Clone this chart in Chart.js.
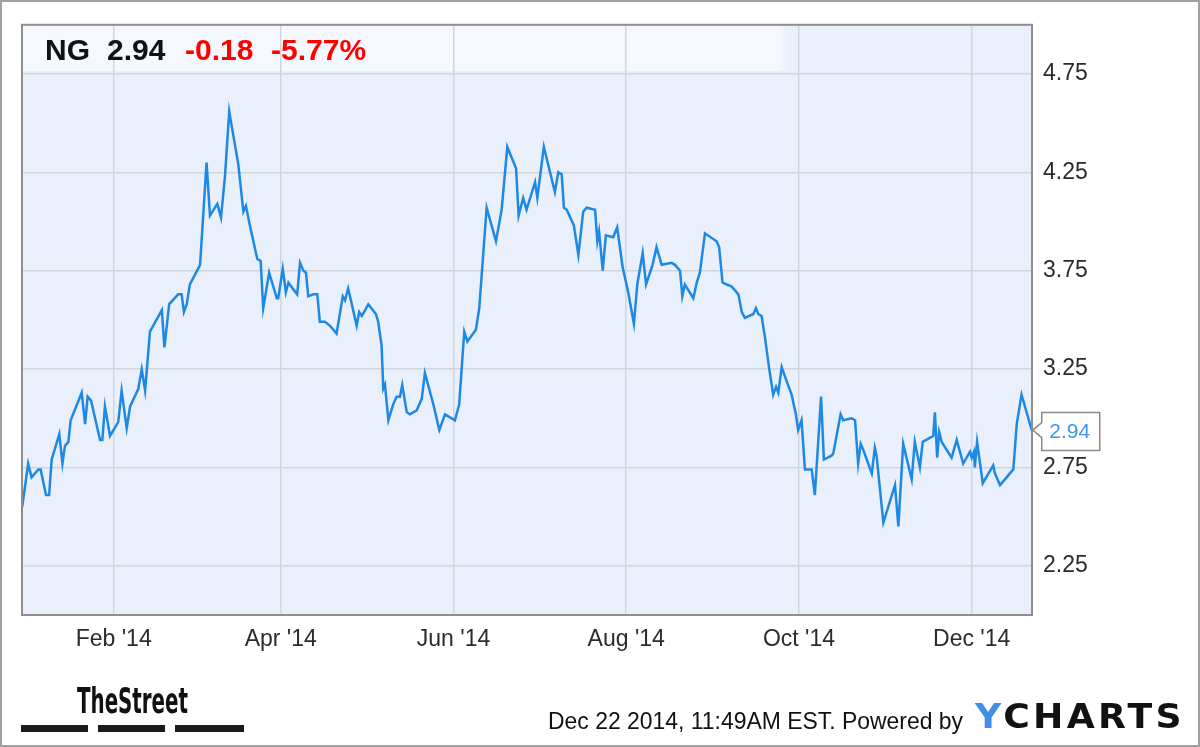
<!DOCTYPE html>
<html>
<head>
<meta charset="utf-8">
<script src="https://cdn.jsdelivr.net/npm/chart.js@4.4.1/dist/chart.umd.min.js"></script>
<style>
html, body { margin: 0; padding: 0; background: #fff; }
#wrap { position: relative; width: 1200px; height: 747px; overflow: hidden; font-family: "Liberation Sans", Arial, sans-serif; }
#chart { position: absolute; left: 0; top: 0; }
#frame { position: absolute; left: 0; top: 0; width: 1200px; height: 747px; box-sizing: border-box; border: 2px solid #a2a2a2; pointer-events: none; }
.t { position: absolute; white-space: nowrap; line-height: 1; transform-origin: 0 0; }
.hdr { top: 35px; font-size: 30px; font-weight: bold; color: #111; }
.red { color: #f00; }
.dash { position: absolute; top: 725px; height: 7px; background: #1a1a1a; }
</style>
</head>
<body>
<div id="wrap">
  <canvas id="chart" width="1200" height="747"></canvas>
  <div class="t hdr" style="left:45px">NG</div>
  <div class="t hdr" style="left:107px">2.94</div>
  <div class="t hdr red" style="left:185px">-0.18</div>
  <div class="t hdr red" style="left:271px">-5.77%</div>

  <div id="street" class="t" style="left:77px;top:684px;font-size:35px;font-weight:bold;color:#111;font-family:'Liberation Sans Narrow','DejaVu Sans Condensed','Liberation Sans',sans-serif;">TheStreet</div>
  <div class="dash" style="left:21px;width:67px"></div>
  <div class="dash" style="left:98px;width:67px"></div>
  <div class="dash" style="left:175px;width:69px"></div>

  <div id="stamp" class="t" style="left:548px;top:709px;font-size:24px;color:#111;">Dec 22 2014, 11:49AM EST. Powered by</div>
  <div id="ycharts" class="t" style="left:975px;top:700px;font-size:33px;font-weight:bold;color:#111;letter-spacing:3px;font-family:'DejaVu Sans','Liberation Sans',sans-serif;"><span style="color:#3f8fe6">Y</span>CHARTS</div>
  <div id="frame"></div>
</div>
<script>
// day of year 2014 (Jan 1 = 0) and close price
var dayOfYear = [
  -1.3, 0.8, 2.0, 4.4, 5.2, 7.1, 8.2, 9.1, 11.8, 12.9,
  13.8, 15.0, 15.8, 19.7, 20.9, 21.8, 23.0, 26.2, 27.0, 27.9,
  29.7, 32.6, 33.8, 35.6, 36.8, 39.7, 40.9, 42.1, 43.8, 48.0,
  48.9, 50.6, 53.8, 55.0, 55.8, 56.8, 57.9, 61.5, 63.8, 65.0,
  67.6, 68.9, 70.3, 71.8, 75.0, 76.8, 77.7, 79.1, 81.7, 82.9,
  83.8, 85.9, 88.6, 89.1, 90.7, 91.8, 92.7, 94.2, 95.8, 96.8,
  98.0, 98.9, 99.7, 101.5, 102.9, 103.8, 105.6, 107.4, 109.7, 111.9,
  112.7, 113.8, 115.4, 116.8, 117.7, 118.6, 119.4, 120.9, 123.6, 124.4,
  125.6, 126.2, 126.8, 128.0, 129.7, 130.9, 132.1, 132.9, 134.5, 135.6,
  138.0, 139.8, 140.9, 143.9, 146.0, 148.0, 151.5, 153.0, 154.8, 155.9,
  158.9, 160.1, 162.7, 166.0, 168.0, 170.0, 173.1, 174.0, 175.6, 176.8,
  179.8, 180.6, 182.9, 186.8, 188.0, 189.2, 190.0, 191.0, 193.5, 195.1,
  196.8, 198.0, 201.0, 201.8, 202.4, 203.7, 204.8, 207.4, 208.8, 210.7,
  212.7, 214.7, 215.9, 217.8, 219.0, 221.3, 222.7, 224.5, 228.0, 229.2,
  231.0, 231.8, 232.7, 235.7, 236.9, 238.0, 239.8, 243.9, 244.8, 246.0,
  247.5, 249.2, 250.4, 251.6, 252.8, 253.9, 256.9, 257.8, 258.6, 259.8,
  261.0, 262.5, 263.9, 264.9, 265.7, 266.9, 268.6, 270.4, 271.9, 272.7,
  273.9, 275.1, 277.5, 278.6, 280.8, 281.8, 284.5, 285.1, 287.7, 288.6,
  291.6, 292.8, 293.9, 294.8, 295.7, 298.7, 299.8, 300.4, 302.8, 306.9,
  308.1, 309.8, 312.8, 313.9, 315.7, 316.7, 319.2, 320.4, 321.0, 321.8,
  322.5, 323.4, 326.9, 328.7, 331.0, 333.4, 334.0, 334.8, 335.1, 335.9,
  337.9, 341.6, 342.2, 344.0, 348.7, 349.9, 351.6, 355.2
];
var closePrice = [
  2.55, 2.77, 2.70, 2.74, 2.74, 2.61, 2.61, 2.79, 2.92, 2.77,
  2.86, 2.88, 2.99, 3.13, 2.97, 3.11, 3.09, 2.89, 2.89, 3.06,
  2.91, 2.98, 3.14, 2.95, 3.06, 3.15, 3.25, 3.14, 3.44, 3.55,
  3.36, 3.58, 3.63, 3.63, 3.54, 3.58, 3.68, 3.78, 4.30, 4.03,
  4.09, 4.02, 4.23, 4.56, 4.29, 4.05, 4.08, 3.98, 3.81, 3.80,
  3.56, 3.74, 3.61, 3.61, 3.76, 3.64, 3.69, 3.66, 3.63, 3.79,
  3.75, 3.74, 3.62, 3.63, 3.63, 3.49, 3.49, 3.47, 3.43, 3.62,
  3.60, 3.66, 3.56, 3.47, 3.54, 3.52, 3.54, 3.58, 3.53, 3.49,
  3.37, 3.15, 3.17, 2.99, 3.07, 3.11, 3.11, 3.17, 3.03, 3.02,
  3.04, 3.10, 3.23, 3.07, 2.94, 3.02, 2.99, 3.07, 3.44, 3.39,
  3.45, 3.56, 4.07, 3.90, 4.06, 4.38, 4.27, 4.03, 4.12, 4.06,
  4.20, 4.12, 4.38, 4.15, 4.25, 4.24, 4.07, 4.06, 3.98, 3.83,
  4.05, 4.07, 4.06, 3.90, 3.95, 3.75, 3.93, 3.92, 3.97, 3.77,
  3.64, 3.48, 3.68, 3.84, 3.68, 3.78, 3.87, 3.78, 3.79, 3.78,
  3.75, 3.62, 3.68, 3.61, 3.69, 3.74, 3.94, 3.90, 3.87, 3.69,
  3.68, 3.67, 3.65, 3.63, 3.54, 3.51, 3.53, 3.56, 3.53, 3.52,
  3.41, 3.25, 3.12, 3.16, 3.13, 3.26, 3.19, 3.12, 3.02, 2.94,
  2.99, 2.74, 2.74, 2.61, 3.11, 2.79, 2.81, 2.82, 3.02, 2.99,
  3.00, 2.99, 2.77, 2.87, 2.84, 2.72, 2.85, 2.81, 2.47, 2.66,
  2.45, 2.87, 2.69, 2.88, 2.75, 2.88, 2.90, 2.91, 3.03, 2.80,
  2.93, 2.88, 2.80, 2.89, 2.77, 2.83, 2.80, 2.83, 2.75, 2.88,
  2.67, 2.76, 2.72, 2.66, 2.74, 2.97, 3.12, 2.94
];
var monthTicks = [31, 90, 151, 212, 273, 334];
var monthLabels = ["Feb '14", "Apr '14", "Jun '14", "Aug '14", "Oct '14", "Dec '14"];
var priceTicks = [2.25, 2.75, 3.25, 3.75, 4.25, 4.75];

var points = dayOfYear.map(function(d, i){ return { x: d, y: closePrice[i] }; });
var gridColor = '#d2d5d9';
var labelColor = '#2b2b2b';

var backdrop = {
  id: 'backdrop',
  beforeDraw: function(chart){
    var c = chart.ctx, a = chart.chartArea;
    c.save();
    c.fillStyle = '#fff';
    c.fillRect(0, 0, chart.width, chart.height);
    c.fillStyle = '#e9f0fc';
    c.fillRect(a.left, a.top, a.right - a.left, a.bottom - a.top);
    // lighter quote header band
    var g = c.createLinearGradient(a.left, 0, 787, 0);
    g.addColorStop(0, '#f5f8fe');
    g.addColorStop(0.99, '#f5f8fe');
    g.addColorStop(1, 'rgba(245,248,254,0)');
    c.fillStyle = g;
    c.fillRect(a.left, a.top, 787 - a.left, 71 - a.top);
    c.restore();
  },
  afterDraw: function(chart){
    var c = chart.ctx, a = chart.chartArea;
    c.save();
    c.strokeStyle = '#8e8e8e';
    c.lineWidth = 2;
    c.strokeRect(a.left, a.top, a.right - a.left, a.bottom - a.top);

    // last value callout
    var meta = chart.getDatasetMeta(0);
    var p = meta.data[meta.data.length - 1];
    var px = p.x, py = p.y;
    var left = px + 10, top = py - 17.5, w = 58, h = 38;
    c.beginPath();
    c.moveTo(left, top);
    c.lineTo(left + w, top);
    c.lineTo(left + w, top + h);
    c.lineTo(left, top + h);
    c.lineTo(left, py + 7.5);
    c.lineTo(px + 1, py);
    c.lineTo(left, py - 7.5);
    c.closePath();
    c.fillStyle = '#fff';
    c.fill();
    c.strokeStyle = '#8a8a8a';
    c.lineWidth = 1.5;
    c.stroke();
    c.fillStyle = '#3d97ee';
    c.font = '21px "Liberation Sans", Arial, sans-serif';
    c.textBaseline = 'middle';
    c.textAlign = 'left';
    c.fillText(closePrice[closePrice.length - 1].toFixed(2), px + 17.5, py + 2);
    c.restore();
  }
};

new Chart(document.getElementById('chart'), {
  type: 'line',
  data: {
    datasets: [{
      data: points,
      borderColor: '#1e88e5',
      borderWidth: 2.5,
      pointRadius: 0,
      tension: 0,
      fill: false
    }]
  },
  options: {
    responsive: false,
    animation: false,
    devicePixelRatio: 1,
    events: [],
    layout: { padding: { left: 22, top: 21, right: 0, bottom: 0 } },
    plugins: { legend: { display: false }, tooltip: { enabled: false } },
    scales: {
      x: {
        type: 'linear',
        min: -1.38,
        max: 355.29,
        afterBuildTicks: function(s){ s.ticks = monthTicks.map(function(v){ return { value: v }; }); },
        afterFit: function(s){ s.height = 132; },
        ticks: {
          autoSkip: false,
          maxRotation: 0,
          padding: 11,
          color: labelColor,
          font: { family: '"Liberation Sans", Arial, sans-serif', size: 23 },
          callback: function(v){ return monthLabels[monthTicks.indexOf(v)]; }
        },
        grid: { color: gridColor, lineWidth: 1.5, drawTicks: false },
        border: { display: false }
      },
      y: {
        position: 'right',
        min: 2,
        max: 5,
        afterBuildTicks: function(s){ s.ticks = priceTicks.map(function(v){ return { value: v }; }); },
        afterFit: function(s){ s.width = 168; },
        ticks: {
          padding: 11,
          color: labelColor,
          font: { family: '"Liberation Sans", Arial, sans-serif', size: 23 },
          callback: function(v){ return v.toFixed(2); }
        },
        grid: { color: gridColor, lineWidth: 1.5, drawTicks: false },
        border: { display: false }
      }
    }
  },
  plugins: [backdrop]
});

function fitWidth(id, w){
  var el = document.getElementById(id);
  var cur = el.getBoundingClientRect().width;
  if (cur > 0) el.style.transform = 'scaleX(' + (w / cur) + ')';
}
fitWidth('street', 111);
fitWidth('stamp', 415);
fitWidth('ycharts', 210);
</script>
</body>
</html>
